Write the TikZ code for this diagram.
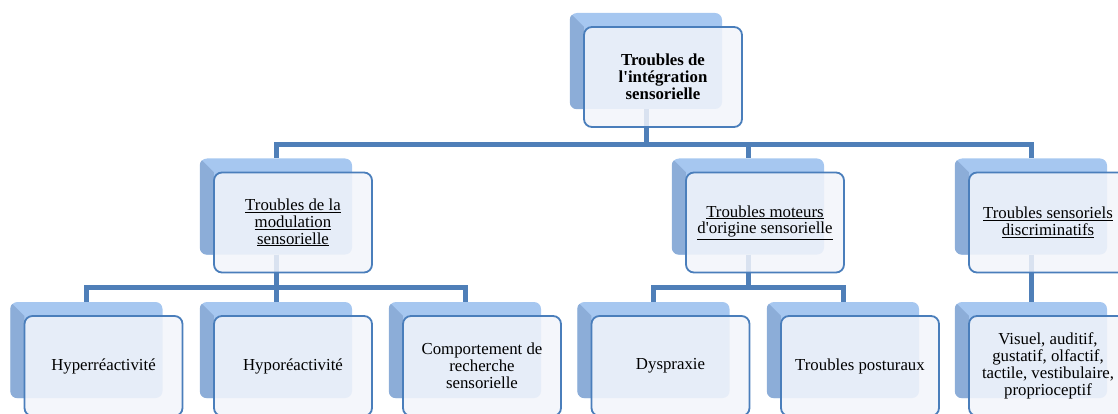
\documentclass[tikz,border=0pt]{standalone}
\usepackage{fontspec}
\setmainfont{Liberation Serif}
\usepackage{tikz}

\definecolor{fondclair}{HTML}{A6C7F0}
\definecolor{fondsombre}{HTML}{8CADD8}
\definecolor{bordbleu}{HTML}{4A7EBB}
\definecolor{lienbleu}{HTML}{4F7FB8}
\definecolor{boiteblanc}{HTML}{F2F4FA}

\begin{document}
\begin{tikzpicture}[x=1pt,y=-1pt,
  fond/.style={fill=fondclair, rounded corners=7pt, minimum width=152pt, minimum height=96pt, inner sep=0pt},
  boite/.style={draw=bordbleu, line width=1.8pt, rounded corners=8pt, fill=boiteblanc, fill opacity=.85, text opacity=1,
    minimum width=158pt, minimum height=100pt, inner sep=2pt, align=center, font=\fontsize{16.8}{16.8}\selectfont},
  lien/.style={draw=lienbleu, line width=5pt}]
\useasboundingbox (0,0) rectangle (1118,414);

% boites de fond
\foreach \nom/\px/\py in
  {top/646/61, mod/276/206.5, mot/748/206.5, sens/1031/206.5,
   hyper/86.5/350, hypo/276/350, comp/465/350, dysp/653.5/350, post/843/350, vis/1031/350}{
  \node [fond] (\nom-b) at (\px,\py) {};
  \begin{scope}
    \clip [rounded corners=7pt] (\nom-b.north west) rectangle (\nom-b.south east);
    \fill [fondsombre] (\nom-b.north west) -- ++(14,14) -- ([xshift=14pt]\nom-b.south west) -- (\nom-b.south west) -- cycle;
  \end{scope}
}

% liaisons
\coordinate (bus1) at (0,144.5);
\coordinate (bus2) at (0,287);
\foreach \enfant in {mod,mot,sens}
  \draw [lien] (top-b.south) -- (top-b.south |- bus1) -| (\enfant-b.north);
\foreach \enfant in {hyper,hypo,comp}
  \draw [lien] (mod-b.south) -- (mod-b.south |- bus2) -| (\enfant-b.north);
\foreach \enfant in {dysp,post}
  \draw [lien] (mot-b.south) -- (mot-b.south |- bus2) -| (\enfant-b.north);
\draw [lien] (sens-b.south) -- (vis-b.north);

% boites
\foreach \nom/\texte in
  {top/{\textbf{Troubles de}\\\textbf{l\textquotesingle intégration}\\\textbf{sensorielle}},
   mod/{\underline{Troubles de la}\\\underline{modulation}\\\underline{sensorielle}},
   mot/{\underline{Troubles moteurs}\\\underline{d\textquotesingle origine sensorielle}},
   sens/{\underline{Troubles sensoriels}\\\underline{discriminatifs}},
   hyper/{Hyperréactivité},
   hypo/{Hyporéactivité},
   comp/{Comportement de\\recherche\\sensorielle},
   dysp/{Dyspraxie},
   post/{Troubles posturaux},
   vis/{Visuel, auditif,\\gustatif, olfactif,\\tactile, vestibulaire,\\proprioceptif}}
  \node [boite] (\nom) at ([shift={(17,16)}]\nom-b) {\texte};

\end{tikzpicture}
\end{document}
